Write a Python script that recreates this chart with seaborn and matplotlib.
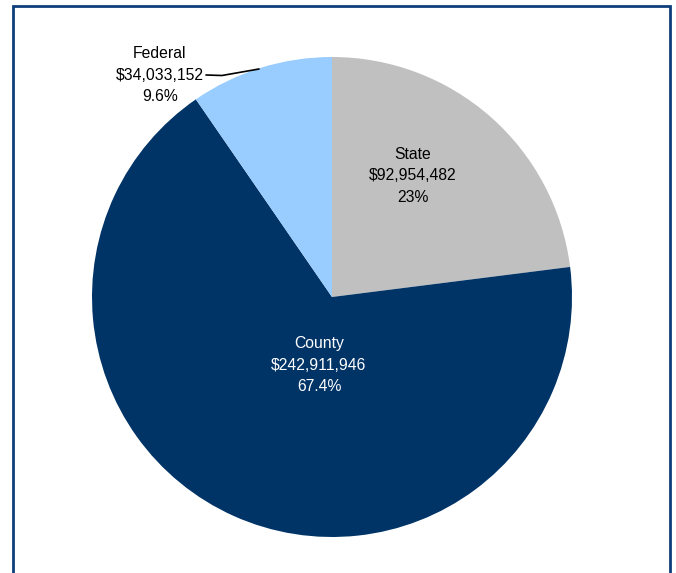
import matplotlib
matplotlib.use("Agg")
import matplotlib.pyplot as plt
from matplotlib.patches import Rectangle
import seaborn as sns

categories = ["State", "County", "Federal"]
amounts = ["$92,954,482", "$242,911,946", "$34,033,152"]
percents = [23.0, 67.4, 9.6]
pct_labels = ["23%", "67.4%", "9.6%"]
colors = ["#C0C0C0", "#003366", "#99CCFF"]

sns.set_theme(style="white")
plt.rcParams['font.family'] = ['Liberation Sans', 'DejaVu Sans']

W, H = 676, 573
fig = plt.figure(figsize=(W / 100, H / 100), dpi=100)
cx, cy, r = 332, 297, 240
ax = fig.add_axes([(cx - r) / W, (H - (cy + r)) / H, 2 * r / W, 2 * r / H])
ax.pie(percents, colors=colors, startangle=90, counterclock=False, radius=1,
       wedgeprops=dict(linewidth=0))
ax.set_xlim(-1, 1)
ax.set_ylim(-1, 1)
ax.set_aspect("equal")
ax.axis("off")

def d(px, py):
    return ((px - cx) / r, (cy - py) / r)

fs = 11.3
label_pos = [d(413, 176), d(319, 365), d(160, 75)]
text_colors = ["black", "white", "black"]
for cat, amt, pl, pos, tc in zip(categories, amounts, pct_labels, label_pos, text_colors):
    ax.text(pos[0], pos[1], f"{cat}\n{amt}\n{pl}", ha="center", va="center",
            fontsize=fs, color=tc, linespacing=1.58, clip_on=False)

# leader line for Federal
p1, p2, p3 = d(206, 75), d(222, 75.5), d(259, 69)
ax.plot([p1[0], p2[0], p3[0]], [p1[1], p2[1], p3[1]], color="black", lw=1.2,
        clip_on=False)

# frame
fig.add_artist(Rectangle((13 / W, -0.02), (670 - 13) / W, (H - 6) / H + 0.02,
                         transform=fig.transFigure, fill=False,
                         edgecolor="#0E3F7A", linewidth=2))

fig.savefig("out.png", dpi=100)
